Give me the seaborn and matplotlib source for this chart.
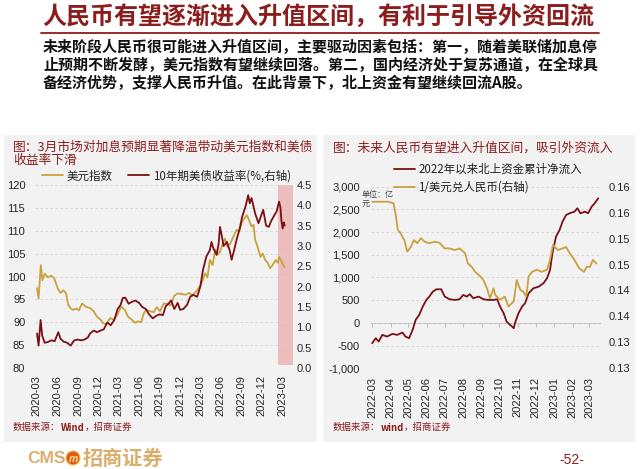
import matplotlib
matplotlib.use('Agg')
import matplotlib.pyplot as plt
import matplotlib.dates as mdates
from matplotlib.ticker import FuncFormatter
from matplotlib.patches import Rectangle, Ellipse
from matplotlib.lines import Line2D
from matplotlib.transforms import offset_copy
import numpy as np
import pandas as pd
import seaborn as sns
from decimal import Decimal, ROUND_HALF_UP

# ---------------- data ----------------
main_title = '人民币有望逐渐进入升值区间，有利于引导外资回流'
body_lines = [
    '未来阶段人民币很可能进入升值区间，主要驱动因素包括：第一，随着美联储加息停',
    '止预期不断发酵，美元指数有望继续回落。第二，国内经济处于复苏通道，在全球具',
    '备经济优势，支撑人民币升值。在此背景下，北上资金有望继续回流A股。',
]
left_title = ['图：3月市场对加息预期显著降温带动美元指数和美债', '收益率下滑']
right_title = '图：未来人民币有望进入升值区间，吸引外资流入'
left_source = ['数据来源：', 'Wind', '，招商证券']
right_source = ['数据来源：', 'wind', '，招商证券']
left_labels = ['美元指数', '10年期美债收益率(%,右轴)']
right_labels = ['2022年以来北上资金累计净流入', '1/美元兑人民币(右轴)']
unit_text = '单位：亿\n元'
page_no = '-52-'

dxy_dates = ['2020-03-02', '2020-03-09', '2020-03-19', '2020-03-26', '2020-04-06', '2020-04-20',
             '2020-05-04', '2020-05-18', '2020-06-04', '2020-06-15', '2020-06-28', '2020-07-10',
             '2020-07-19', '2020-07-31', '2020-08-10', '2020-08-25', '2020-09-05', '2020-09-19',
             '2020-10-05', '2020-10-25', '2020-11-10', '2020-11-25', '2020-12-10', '2020-12-22',
             '2021-01-05', '2021-01-22', '2021-02-08', '2021-02-22', '2021-03-13', '2021-03-28',
             '2021-04-13', '2021-04-28', '2021-05-13', '2021-05-28', '2021-06-10', '2021-06-22',
             '2021-07-04', '2021-07-20', '2021-08-05', '2021-08-19', '2021-09-02', '2021-09-19',
             '2021-10-05', '2021-10-20', '2021-11-05', '2021-11-20', '2021-12-05', '2021-12-25',
             '2022-01-10', '2022-01-25', '2022-02-15', '2022-03-07', '2022-03-22', '2022-04-02',
             '2022-04-13', '2022-04-25', '2022-05-07', '2022-05-18', '2022-05-28', '2022-06-08',
             '2022-06-19', '2022-06-30', '2022-07-13', '2022-07-25', '2022-08-10', '2022-08-22',
             '2022-09-04', '2022-09-15', '2022-09-25', '2022-10-05', '2022-10-16', '2022-10-25',
             '2022-11-01', '2022-11-12', '2022-11-25', '2022-12-05', '2022-12-16', '2022-12-27',
             '2023-01-07', '2023-01-18', '2023-02-01', '2023-02-10', '2023-02-16', '2023-02-25',
             '2023-03-05', '2023-03-13']
dxy_values = [97.5, 95.2, 102.5, 99.2, 100.6, 99.8,
              100.2, 99.6, 97.2, 96.4, 97.0, 96.3,
              93.8, 93.0, 92.7, 93.0, 92.6, 94.1,
              93.4, 93.1, 92.4, 91.2, 90.6, 89.8,
              89.5, 90.9, 90.6, 91.5, 93.4, 92.8,
              91.2, 90.6, 89.9, 90.2, 90.0, 92.0,
              92.7, 92.4, 92.2, 93.3, 92.4, 94.1,
              94.0, 93.7, 95.8, 96.3, 96.2, 96.0,
              96.4, 95.8, 97.0, 98.5, 100.7, 99.8,
              103.6, 102.5, 105.8, 104.8, 105.4, 107.0,
              108.3, 106.5, 107.2, 108.5, 110.2, 109.8,
              112.0, 112.8, 113.4, 112.3, 110.9, 111.3,
              108.0, 106.5, 104.3, 105.0, 103.6, 103.0,
              101.8, 102.5, 103.6, 103.0, 104.3, 103.5,
              102.6, 102.0]

ust_dates = ['2020-03-02', '2020-03-09', '2020-03-18', '2020-03-25', '2020-04-05', '2020-04-20',
             '2020-05-05', '2020-05-20', '2020-06-05', '2020-06-15', '2020-06-28', '2020-07-15',
             '2020-07-30', '2020-08-15', '2020-08-30', '2020-09-15', '2020-09-30', '2020-10-15',
             '2020-10-25', '2020-11-10', '2020-11-25', '2020-12-10', '2020-12-25', '2021-01-10',
             '2021-01-25', '2021-02-10', '2021-02-25', '2021-03-10', '2021-03-20', '2021-03-31',
             '2021-04-15', '2021-05-01', '2021-05-15', '2021-06-01', '2021-06-15', '2021-07-01',
             '2021-07-15', '2021-08-01', '2021-08-15', '2021-09-01', '2021-09-15', '2021-09-28',
             '2021-10-10', '2021-10-22', '2021-11-05', '2021-11-20', '2021-12-01', '2021-12-15',
             '2022-01-01', '2022-01-15', '2022-01-28', '2022-02-15', '2022-03-01', '2022-03-13',
             '2022-03-28', '2022-04-13', '2022-04-20', '2022-04-28', '2022-05-13', '2022-05-22',
             '2022-05-28', '2022-06-05', '2022-06-13', '2022-06-28', '2022-07-10', '2022-07-19',
             '2022-07-28', '2022-08-10', '2022-08-25', '2022-09-04', '2022-09-19', '2022-10-01',
             '2022-10-08', '2022-10-16', '2022-11-01', '2022-11-16', '2022-12-01', '2022-12-07',
             '2022-12-20', '2023-01-01', '2023-01-12', '2023-01-22', '2023-02-05', '2023-02-16',
             '2023-02-22', '2023-02-26', '2023-03-04', '2023-03-09', '2023-03-13']
ust_values = [0.85, 0.55, 1.18, 0.80, 0.62, 0.64,
              0.68, 0.66, 0.88, 0.72, 0.65, 0.62,
              0.55, 0.68, 0.70, 0.68, 0.70, 0.75,
              0.85, 0.92, 0.88, 0.92, 0.95, 1.12,
              1.05, 1.18, 1.45, 1.55, 1.72, 1.73,
              1.58, 1.63, 1.66, 1.60, 1.50, 1.45,
              1.32, 1.22, 1.28, 1.32, 1.30, 1.52,
              1.58, 1.66, 1.45, 1.60, 1.43, 1.45,
              1.55, 1.75, 1.80, 1.75, 2.00, 2.41,
              2.74, 2.90, 3.10, 2.95, 2.78, 3.05,
              3.47, 3.25, 3.00, 3.10, 2.90, 2.66,
              2.85, 3.15, 3.45, 3.72, 3.97, 4.25,
              4.05, 4.18, 3.80, 3.56, 3.80, 3.89,
              3.50, 3.47, 3.62, 3.72, 3.85, 4.09,
              3.95, 3.64, 3.43, 3.58, 3.50]

flow_dates = ['2022-03-01', '2022-03-07', '2022-03-12', '2022-03-18', '2022-03-26', '2022-04-04',
              '2022-04-12', '2022-04-21', '2022-04-26', '2022-05-02', '2022-05-08', '2022-05-13',
              '2022-05-19', '2022-05-25', '2022-05-31', '2022-06-05', '2022-06-11', '2022-06-17',
              '2022-06-25', '2022-07-01', '2022-07-09', '2022-07-18', '2022-07-26', '2022-08-01',
              '2022-08-07', '2022-08-12', '2022-08-18', '2022-08-27', '2022-09-04', '2022-09-12',
              '2022-09-21', '2022-09-27', '2022-10-02', '2022-10-08', '2022-10-13', '2022-10-19',
              '2022-10-25', '2022-10-27', '2022-11-02', '2022-11-08', '2022-11-13', '2022-11-19',
              '2022-11-27', '2022-12-06', '2022-12-14', '2022-12-20', '2022-12-25', '2022-12-29',
              '2023-01-04', '2023-01-10', '2023-01-15', '2023-01-21', '2023-01-27', '2023-02-04',
              '2023-02-09', '2023-02-14', '2023-02-22', '2023-02-27', '2023-03-05', '2023-03-10',
              '2023-03-16']
flow_values = [-447, -337, -411, -264, -301, -242,
               -264, -213, -301, -337, -154, 66,
               176, 359, 506, 579, 689, 741,
               741, 579, 521, 506, 521, 616,
               579, 632, 543, 579, 521, 506,
               506, 521, 359, 214, 29, -44,
               -117, -7, 214, 359, 433, 653,
               763, 799, 874, 984, 1167, 1534,
               1900, 2047, 2230, 2377, 2415, 2450,
               2525, 2415, 2450, 2415, 2560, 2634,
               2745]

fx_dates = ['2022-03-01', '2022-03-16', '2022-03-28', '2022-04-06', '2022-04-10', '2022-04-13',
            '2022-04-18', '2022-04-24', '2022-04-29', '2022-05-05', '2022-05-10', '2022-05-16',
            '2022-05-22', '2022-05-28', '2022-06-05', '2022-06-14', '2022-06-22', '2022-07-01',
            '2022-07-09', '2022-07-18', '2022-07-26', '2022-08-04', '2022-08-09', '2022-08-15',
            '2022-08-21', '2022-08-30', '2022-09-04', '2022-09-10', '2022-09-15', '2022-09-21',
            '2022-09-24', '2022-10-02', '2022-10-10', '2022-10-16', '2022-10-25', '2022-10-30',
            '2022-11-05', '2022-11-10', '2022-11-15', '2022-11-19', '2022-11-25', '2022-12-03',
            '2022-12-11', '2022-12-20', '2022-12-25', '2022-12-30', '2023-01-07', '2023-01-15',
            '2023-01-21', '2023-01-27', '2023-02-04', '2023-02-12', '2023-02-20', '2023-02-25',
            '2023-03-02', '2023-03-07', '2023-03-13']
fx_values = [0.1571, 0.1571, 0.1571, 0.1568, 0.1542, 0.1517,
             0.1510, 0.1497, 0.1475, 0.1484, 0.1497, 0.1491,
             0.1501, 0.1494, 0.1491, 0.1494, 0.1492, 0.1481,
             0.1481, 0.1478, 0.1481, 0.1472, 0.1452, 0.1446,
             0.1436, 0.1427, 0.1420, 0.1404, 0.1385, 0.1404,
             0.1391, 0.1382, 0.1388, 0.1369, 0.1379, 0.1420,
             0.1401, 0.1398, 0.1388, 0.1427, 0.1436, 0.1440,
             0.1436, 0.1440, 0.1459, 0.1488, 0.1478, 0.1481,
             0.1484, 0.1472, 0.1459, 0.1443, 0.1436, 0.1446,
             0.1445, 0.1459, 0.1452]

left_xticks = ['2020-03', '2020-06', '2020-09', '2020-12', '2021-03', '2021-06', '2021-09',
               '2021-12', '2022-03', '2022-06', '2022-09', '2022-12', '2023-03']
right_xticks = ['2022-03', '2022-04', '2022-05', '2022-06', '2022-07', '2022-08', '2022-09',
                '2022-10', '2022-11', '2022-12', '2023-01', '2023-02', '2023-03']
left_yticks = [80, 85, 90, 95, 100, 105, 110, 115, 120]
left_y2ticks = [0.0, 0.5, 1.0, 1.5, 2.0, 2.5, 3.0, 3.5, 4.0, 4.5]
right_yticks = [-1000, -500, 0, 500, 1000, 1500, 2000, 2500, 3000]
right_y2ticks = [0.125, 0.130, 0.135, 0.140, 0.145, 0.150, 0.155, 0.160]
highlight_span = ('2023-02-13', '2023-04-19')

# ---------------- style ----------------
sns.set_style('white')
plt.rcParams['font.family'] = ['Liberation Sans', 'Noto Sans CJK SC', 'DejaVu Sans']
plt.rcParams['axes.unicode_minus'] = False
CJK = ['Noto Sans CJK SC', 'DejaVu Sans']

GOLD = '#C9A23E'
MAROON = '#7A1014'
PINK = '#EDBDBD'
TITLE_RED = '#8C1D1D'
PANEL_BG = '#F2F2F2'
GRID = '#D3D3D3'
TICK_C = '#262626'
LOGO_GOLD = '#DAAE6A'

W, H = 640, 469
fig = plt.figure(figsize=(6.4, 4.69), dpi=100)
fig.patch.set_facecolor('white')


def fx(px):
    return px / W


def fy(py):
    return 1 - py / H


def excel_round(v, _pos=None):
    return str(Decimal(str(round(float(v), 4))).quantize(Decimal('0.01'), ROUND_HALF_UP))


# header
fig.text(fx(318), fy(17), main_title, family=CJK, fontsize=17.3, fontweight='bold',
         color=TITLE_RED, ha='center', va='center')
fig.add_artist(Line2D([fx(41), fx(599)], [fy(33), fy(33)], color=TITLE_RED, lw=1.3,
                      transform=fig.transFigure))
for i, line in enumerate(body_lines):
    fig.text(fx(43), fy(47 + 18 * i), line, family=CJK, fontsize=10.8, fontweight='bold',
             color='#111111', ha='left', va='center')

# panel backgrounds
for x0, x1 in [(4, 317), (323, 635)]:
    fig.add_artist(Rectangle((fx(x0), fy(442)), fx(x1 - x0), (442 - 135) / H,
                             transform=fig.transFigure, facecolor=PANEL_BG,
                             edgecolor='none', zorder=-1))

# panel titles
fig.text(fx(13), fy(147.5), left_title[0], family=CJK, fontsize=9.2, color=TITLE_RED,
         ha='left', va='center')
fig.text(fx(13), fy(160.5), left_title[1], family=CJK, fontsize=9.2, color=TITLE_RED,
         ha='left', va='center')
fig.text(fx(333), fy(148), right_title, family=CJK, fontsize=9.2, color=TITLE_RED,
         ha='left', va='center')


def style_axes(ax):
    ax.set_facecolor('none')
    for s in ax.spines.values():
        s.set_visible(False)
    ax.set_xlabel('')
    ax.set_ylabel('')


# ---------------- left chart ----------------
axL = fig.add_axes([fx(35), fy(368), fx(295 - 35), (368 - 185) / H])
dxy_df = pd.DataFrame({'date': pd.to_datetime(dxy_dates), 'value': dxy_values})
ust_df = pd.DataFrame({'date': pd.to_datetime(ust_dates), 'value': ust_values})

axL.axvspan(pd.Timestamp(highlight_span[0]), pd.Timestamp(highlight_span[1]),
            ymin=0.015, ymax=1.0, color=PINK, lw=0, zorder=0.5)
sns.lineplot(data=dxy_df, x='date', y='value', ax=axL, color=GOLD, lw=1.3,
             errorbar=None, legend=False, zorder=2)
axL2 = axL.twinx()
sns.lineplot(data=ust_df, x='date', y='value', ax=axL2, color=MAROON, lw=1.3,
             errorbar=None, legend=False, zorder=2)

for ax in (axL, axL2):
    style_axes(ax)
axL.set_ylim(80, 120)
axL.set_yticks(left_yticks)
axL2.set_ylim(0, 4.5)
axL2.set_yticks(left_y2ticks)
axL2.yaxis.set_major_formatter(FuncFormatter(lambda v, _: f'{v:.1f}'))
axL.set_xlim(pd.Timestamp('2020-02-22'), pd.Timestamp('2023-04-28'))
axL.set_xticks(pd.to_datetime([t + '-01' for t in left_xticks]))
axL.set_xticklabels(left_xticks, rotation=90)
axL.yaxis.grid(True, linestyle=(0, (3, 3)), color=GRID, lw=0.6)
axL.set_axisbelow(True)
axL.tick_params(axis='y', length=0, pad=7, labelsize=8, labelcolor=TICK_C)
axL.tick_params(axis='x', length=0, pad=5, labelsize=8, labelcolor=TICK_C)
axL2.tick_params(axis='y', length=0, pad=1, labelsize=8, labelcolor=TICK_C)

leg = fig.legend([axL.lines[0], axL2.lines[0]], left_labels, loc='center left',
                 bbox_to_anchor=(fx(42), fy(176)), ncol=2, frameon=False,
                 prop={'family': CJK, 'size': 8.3}, handlelength=1.8, handletextpad=0.3,
                 columnspacing=1.4, borderpad=0, borderaxespad=0)
for t in leg.get_texts():
    t.set_color('#222222')

# ---------------- right chart ----------------
axR = fig.add_axes([fx(371), fy(368.3), fx(600 - 371), (368.3 - 186.7) / H])
flow_df = pd.DataFrame({'date': pd.to_datetime(flow_dates), 'value': flow_values})
fx_df = pd.DataFrame({'date': pd.to_datetime(fx_dates), 'value': fx_values})

sns.lineplot(data=flow_df, x='date', y='value', ax=axR, color=MAROON, lw=1.3,
             errorbar=None, legend=False, zorder=2)
axR2 = axR.twinx()
sns.lineplot(data=fx_df, x='date', y='value', ax=axR2, color=GOLD, lw=1.3,
             errorbar=None, legend=False, zorder=2)
for ax in (axR, axR2):
    style_axes(ax)
axR.set_ylim(-1000, 3000)
axR.set_yticks(right_yticks)
axR.yaxis.set_major_formatter(FuncFormatter(lambda v, _: f'{v:,.0f}'))
axR2.set_ylim(0.125, 0.160)
axR2.set_yticks(right_y2ticks)
axR2.yaxis.set_major_formatter(FuncFormatter(excel_round))
axR.set_xlim(pd.Timestamp('2022-02-27'), pd.Timestamp('2023-03-19'))
rt = pd.to_datetime([t + '-01' for t in right_xticks])
axR.set_xticks(rt)
axR.set_xticklabels(right_xticks, rotation=90)
axR.yaxis.grid(True, linestyle=(0, (3, 3)), color=GRID, lw=0.6)
axR.set_axisbelow(True)
axR.tick_params(axis='y', length=0, pad=8, labelsize=8, labelcolor=TICK_C)
axR.tick_params(axis='x', length=0, pad=6, labelsize=8, labelcolor=TICK_C)
axR2.tick_params(axis='y', length=0, pad=6, labelsize=8, labelcolor=TICK_C)

# zero line acting as the category axis
sec = axR.secondary_xaxis(0.25)
sec.set_xticks(mdates.date2num(rt))
sec.tick_params(axis='x', direction='out', length=3, width=0.7, color='#BFBFBF',
                labelbottom=False)
for name, s in sec.spines.items():
    s.set_visible(name == 'bottom')
sec.spines['bottom'].set_color('#BFBFBF')
sec.spines['bottom'].set_linewidth(0.8)

legR = fig.legend([axR.lines[0], axR2.lines[0]], right_labels, loc='upper left',
                  bbox_to_anchor=(fx(394), fy(163)), ncol=1, frameon=False,
                  prop={'family': CJK, 'size': 8.3}, handlelength=1.8, handletextpad=0.3,
                  labelspacing=0.4, borderpad=0, borderaxespad=0)
for t in legR.get_texts():
    t.set_color('#222222')

fig.text(fx(362), fy(199), unit_text, family=CJK, fontsize=5.8, color='#444444',
         ha='left', va='center', linespacing=1.1)

# ---------------- sources (Wind in bold) ----------------
renderer = fig.canvas.get_renderer()


def run_text(x_px, y_px, pieces, weights, size, color):
    t = fig.text(fx(x_px), fy(y_px), pieces[0], family=CJK, fontsize=size, color=color,
                 fontweight=weights[0], ha='left', va='center')
    for piece, w in zip(pieces[1:], weights[1:]):
        ext = t.get_window_extent(renderer=renderer)
        t = fig.text(ext.x1 / fig.bbox.width, fy(y_px), piece, family=CJK, fontsize=size,
                     color=color, fontweight=w, ha='left', va='center')


run_text(13, 427.5, left_source, ['normal', 'bold', 'normal'], 6.8, TITLE_RED)
run_text(333, 427.5, right_source, ['normal', 'bold', 'normal'], 6.8, TITLE_RED)

# ---------------- footer ----------------
fig.text(fx(27), fy(458), 'CMS', fontsize=12.5, fontweight='bold', color=LOGO_GOLD,
         ha='left', va='center', family=['Liberation Sans'])
fig.add_artist(Ellipse((fx(73), fy(458)), fx(14), 14 / H, transform=fig.transFigure,
                       facecolor='#DE5A18', edgecolor='#F2C14E', lw=0.8))
fig.text(fx(73), fy(458.5), 'm', fontsize=7.5, fontweight='bold', color='#FFE38A',
         ha='center', va='center', style='italic', family=['Liberation Sans'])
fig.text(fx(83), fy(458), '招商证券', family=CJK, fontsize=14.5, fontweight='bold',
         color=LOGO_GOLD, ha='left', va='center')
fig.text(fx(572), fy(460), page_no, fontsize=10, color=TITLE_RED, ha='center',
         va='center', family=['Liberation Sans'])

fig.savefig('out.png', dpi=100, facecolor='white')
